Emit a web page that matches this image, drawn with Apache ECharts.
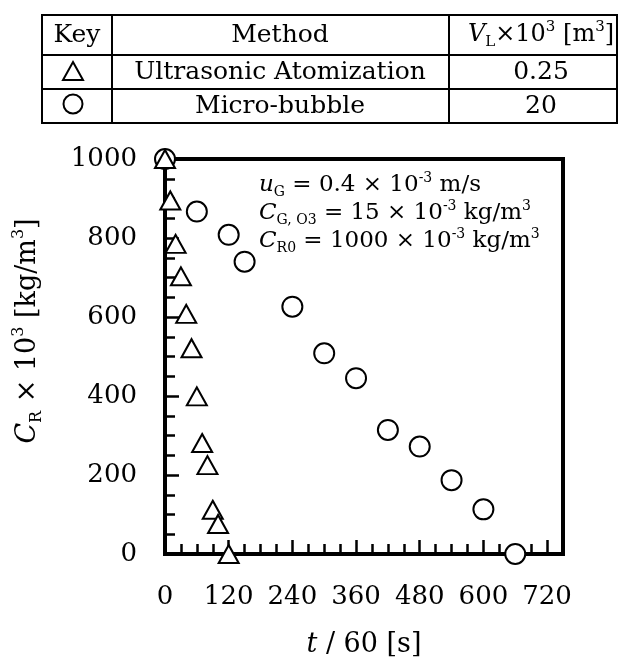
<!DOCTYPE html>
<html>
<head>
<meta charset="utf-8">
<script src="https://cdn.jsdelivr.net/npm/echarts@6/dist/echarts.min.js"></script>
<style>
    html, body { margin: 0; padding: 0; background: #fff; }
    #chart { width: 624px; height: 657px; }
</style>
</head>
<body>
<div id="chart"></div>
<script>
// 超声雾化 (Δ)
const timeUA = [0, 10, 20, 30, 40, 50, 60, 70, 80, 90, 100, 120];
const crUA = [1000, 895, 785, 703, 608, 521, 399, 281, 225, 112, 76, 0];
// 微气泡 (○)
const timeMB = [0, 60, 120, 150, 240, 300, 360, 420, 480, 540, 600, 660];
const crMB = [1000, 867, 808, 740, 626, 508, 445, 314, 272, 187, 113, 0];

const tableHead = ['Key', 'Method'];
const methods = ['Ultrasonic Atomization', 'Micro-bubble'];
const volumes = ['0.25', '20'];

const serif = 'DejaVu Serif';
const black = '#000';

function pairs(xs, ys) {
    return xs.map((x, i) => [x, ys[i]]);
}

// 表格线
const rowsY = [15, 55, 89, 123];
const colsX = [42, 112, 449, 617];
const tableEls = [];
rowsY.forEach((y) => {
    tableEls.push({ type: 'line', shape: { x1: colsX[0] - 1, y1: y, x2: colsX[3] + 1, y2: y }, style: { stroke: black, lineWidth: 2 } });
});
colsX.forEach((x) => {
    tableEls.push({ type: 'line', shape: { x1: x, y1: rowsY[0], x2: x, y2: rowsY[3] }, style: { stroke: black, lineWidth: 2 } });
});
const rowMid = [35, 72, 106];
const colText = [77, 280, 541];

const richTbl = {
    n: { fontFamily: serif, fontSize: 24, lineHeight: 30, fill: black },
    it: { fontFamily: serif, fontSize: 24, fontStyle: 'italic', lineHeight: 30, fill: black },
    sub: { fontFamily: serif, fontSize: 15, lineHeight: 20, verticalAlign: 'bottom', fill: black },
    sup: { fontFamily: serif, fontSize: 15, lineHeight: 14, verticalAlign: 'top', fill: black },
};
function cell(text, x, y) {
    return {
        type: 'text',
        style: { text: text, x: x, y: y, fontFamily: serif, fontSize: 25, textAlign: 'center', textVerticalAlign: 'middle', fill: black },
    };
}
tableEls.push(cell(tableHead[0], colText[0], rowMid[0]));
tableEls.push(cell(tableHead[1], colText[1], rowMid[0]));
tableEls.push({
    type: 'text',
    style: {
        text: '{it|V}{sub|L}{n|×10}{sup|3}{n| [m}{sup|3}{n|]}',
        x: colText[2], y: rowMid[0], textAlign: 'center', textVerticalAlign: 'middle', rich: richTbl,
    },
});
// 图例符号
tableEls.push({
    type: 'polygon',
    shape: { points: [[73, 62], [83, 80], [63, 80]] },
    style: { fill: '#fff', stroke: black, lineWidth: 2 },
});
tableEls.push({
    type: 'circle',
    shape: { cx: 73, cy: 104, r: 9.5 },
    style: { fill: '#fff', stroke: black, lineWidth: 2 },
});
for (let i = 0; i < methods.length; i++) {
    tableEls.push(cell(methods[i], colText[1], rowMid[i + 1]));
    tableEls.push(cell(volumes[i], colText[2], rowMid[i + 1]));
}

// 条件说明
const richNote = {
    n: { fontFamily: serif, fontSize: 23, lineHeight: 28, fill: black },
    it: { fontFamily: serif, fontSize: 23, fontStyle: 'italic', lineHeight: 28, fill: black },
    sub: { fontFamily: serif, fontSize: 14, lineHeight: 18, verticalAlign: 'bottom', fill: black },
    sup: { fontFamily: serif, fontSize: 14, lineHeight: 13, verticalAlign: 'top', fill: black },
};
const noteText = [
    '{it|u}{sub|G}{n| = 0.4 × 10}{sup|-3}{n| m/s}',
    '{it|C}{sub|G, O3}{n| = 15 × 10}{sup|-3}{n| kg/m}{sup|3}',
    '{it|C}{sub|R0}{n| = 1000 × 10}{sup|-3}{n| kg/m}{sup|3}',
].join('\n');

const richAxisX = {
    n: { fontFamily: serif, fontSize: 27, lineHeight: 32, color: black },
    it: { fontFamily: serif, fontSize: 27, fontStyle: 'italic', lineHeight: 32, color: black },
};
const richAxisY = {
    n: { fontFamily: serif, fontSize: 27, lineHeight: 34, fill: black },
    it: { fontFamily: serif, fontSize: 27, fontStyle: 'italic', lineHeight: 34, fill: black },
    sub: { fontFamily: serif, fontSize: 16, lineHeight: 22, verticalAlign: 'bottom', fill: black },
    sup: { fontFamily: serif, fontSize: 16, lineHeight: 16, verticalAlign: 'top', fill: black },
};

const tickLabel = { color: black, fontFamily: serif, fontSize: 26 };

const chart = echarts.init(document.getElementById('chart'));
const option = {
    animation: false,
    backgroundColor: '#fff',
    grid: {
        left: 165, right: 61, top: 159, bottom: 103,
        containLabel: false, outerBoundsMode: 'none',
        show: true, borderColor: black, borderWidth: 4,
    },
    xAxis: [
        {
            type: 'value', min: 0, max: 750, interval: 120,
            name: '{it|t}{n| / 60 [s]}', nameLocation: 'middle', nameGap: 75,
            nameTextStyle: { rich: richAxisX },
            axisLine: { show: true, lineStyle: { color: black, width: 4 } },
            axisTick: { show: true, inside: true, length: 14, lineStyle: { color: black, width: 2.5 } },
            axisLabel: { ...tickLabel, margin: 30, showMaxLabel: false },
            splitLine: { show: false },
        },
        {
            type: 'value', min: 0, max: 750, interval: 30, position: 'bottom',
            axisLine: { show: false },
            axisTick: { show: true, inside: true, length: 10, lineStyle: { color: black, width: 2.5 } },
            axisLabel: { show: false },
            splitLine: { show: false },
        },
    ],
    yAxis: {
        type: 'value', min: 0, max: 1000, interval: 200,
        axisLine: { show: true, lineStyle: { color: black, width: 4 } },
        axisTick: { show: true, inside: true, length: 14, lineStyle: { color: black, width: 2.5 } },
        minorTick: { show: true, splitNumber: 4, length: 10, lineStyle: { color: black, width: 2.5 } },
        axisLabel: { ...tickLabel, margin: 28, formatter: (v) => String(v) },
        splitLine: { show: false },
    },
    graphic: [
        ...tableEls,
        {
            type: 'text', z: 10,
            style: { text: noteText, x: 259, y: 171, textAlign: 'left', textVerticalAlign: 'top', rich: richNote },
        },
        {
            type: 'text', x: 28, y: 331, rotation: Math.PI / 2,
            style: {
                text: '{it|C}{sub|R}{n| × 10}{sup|3}{n| [kg/m}{sup|3}{n|]}',
                x: 0, y: 0, textAlign: 'center', textVerticalAlign: 'middle', rich: richAxisY,
            },
        },
    ],
    series: [
        {
            name: 'Micro-bubble', type: 'scatter', clip: false,
            symbol: 'circle', symbolSize: 20,
            itemStyle: { color: '#fff', borderColor: black, borderWidth: 2, opacity: 1 },
            data: pairs(timeMB, crMB),
        },
        {
            name: 'Ultrasonic Atomization', type: 'scatter', clip: false,
            symbol: 'triangle', symbolSize: [20, 18],
            itemStyle: { color: '#fff', borderColor: black, borderWidth: 2, opacity: 1 },
            data: pairs(timeUA, crUA),
        },
    ],
};
chart.setOption(option);
</script>
</body>
</html>
